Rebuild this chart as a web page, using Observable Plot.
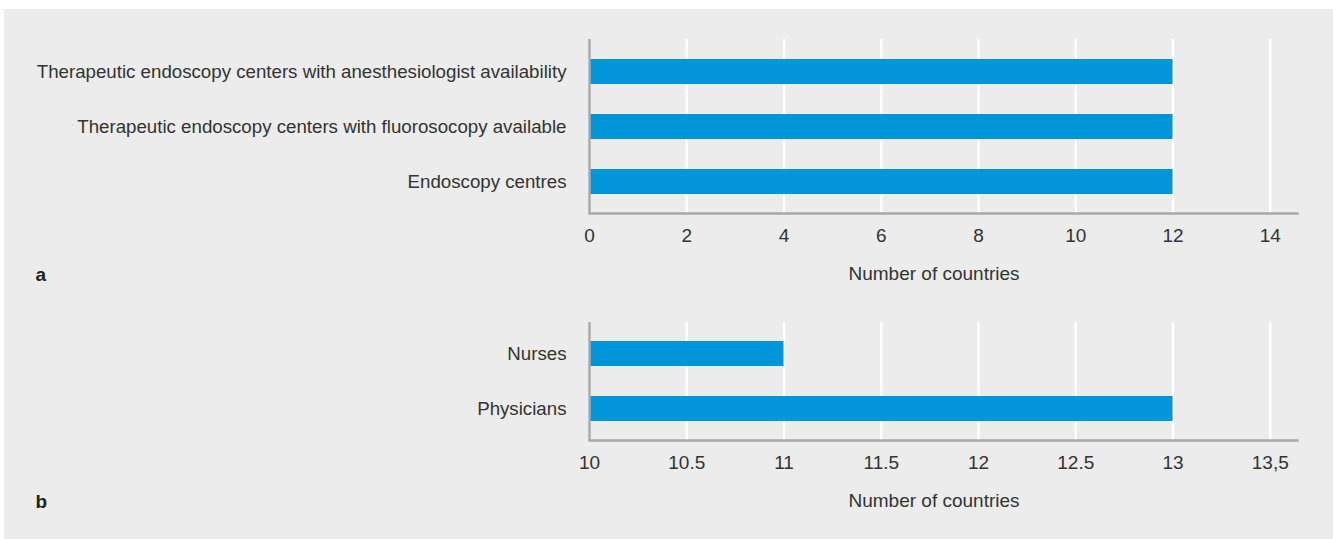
<!DOCTYPE html>
<html><head><meta charset="utf-8">
<script src="https://cdn.jsdelivr.net/npm/d3@7"></script>
<script src="https://cdn.jsdelivr.net/npm/@observablehq/plot@0.6"></script>
<style>
body{margin:0;background:#fff;}
#panel{position:absolute;left:4px;top:9px;width:1329px;height:530px;background:#ebeceb;}
#panel svg{display:block;}
</style></head><body>
<div id="panel"></div>
<script>
// Panel a
const catA = ["Therapeutic endoscopy centers with anesthesiologist availability",
              "Therapeutic endoscopy centers with fluorosocopy available",
              "Endoscopy centres"];
const valA = [12, 12, 12];
const ticksA = [0, 2, 4, 6, 8, 10, 12, 14];
const domainA = [0, 14.56];
// Panel b
const catB = ["Nurses", "Physicians"];
const valB = [11, 13];
const ticksB = [10, 10.5, 11, 11.5, 12, 12.5, 13, 13.5];
const tickLabelsB = ["10", "10.5", "11", "11.5", "12", "12.5", "13", "13,5"];
const domainB = [10, 13.64];
const axisLabel = "Number of countries";
const panelTags = ["a", "b"];

const FONT = '"Liberation Sans", Arial, sans-serif';
const FS = 19;
const FSY = 18.7;
const TXT = "#333";
const BAR = "#0096d9";
const AX = "#a9a9a9";

function panel({cats, vals, ticks, labels, domain, tag, height, marginTop, marginBottom}) {
  const data = cats.map((c, i) => ({cat: c, v: vals[i], base: domain[0]}));
  return Plot.plot({
    width: 1329, height, marginLeft: 585, marginRight: 36, marginTop, marginBottom,
    style: {background: "transparent", fontFamily: FONT, fontSize: FS + "px", color: TXT},
    x: {domain, label: null},
    y: {domain: cats, paddingInner: 0.55, paddingOuter: 0.33, label: null},
    marks: [
      Plot.gridX(ticks, {stroke: "#fff", strokeOpacity: 1, strokeWidth: 2.5}),
      Plot.barX(data, {y: "cat", x1: "base", x2: "v", fill: BAR}),
      Plot.ruleX([domain[0]], {stroke: AX, strokeWidth: 2.5}),
      Plot.frame({anchor: "bottom", stroke: AX, strokeWidth: 2.5}),
      Plot.axisX(ticks, {tickSize: 0, tickPadding: 15, fill: TXT, fontSize: FS,
        tickFormat: labels ? (d => labels[ticks.indexOf(d)]) : (d => String(d))}),
      Plot.axisY({tickSize: 0, tickPadding: 23, fill: TXT, fontSize: FSY}),
      Plot.text([axisLabel], {frameAnchor: "bottom", dx: -9.5, dy: 66, fill: TXT, fontSize: FS}),
      Plot.text([tag], {frameAnchor: "bottom-left", textAnchor: "start", dx: -554, dy: 67,
        fill: "#222", fontSize: FS, fontWeight: "bold"})
    ]
  });
}

const root = document.getElementById("panel");
root.appendChild(panel({cats: catA, vals: valA, ticks: ticksA, labels: null, domain: domainA,
  tag: panelTags[0], height: 284, marginTop: 30, marginBottom: 80}));
root.appendChild(panel({cats: catB, vals: valB, ticks: ticksB, labels: tickLabelsB, domain: domainB,
  tag: panelTags[1], height: 244, marginTop: 29, marginBottom: 97}));
</script>
</body></html>
